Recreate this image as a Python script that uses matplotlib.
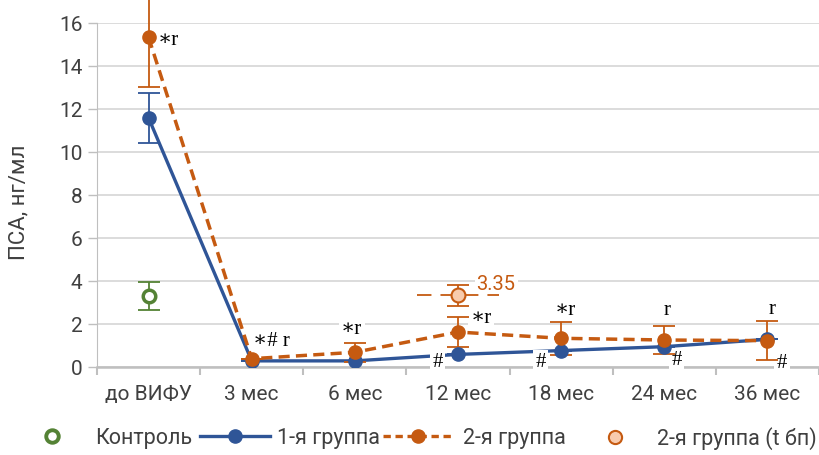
import numpy as np
import matplotlib
matplotlib.use("Agg")
import matplotlib.pyplot as plt
from matplotlib.lines import Line2D

categories = ['до ВИФУ', '3 мес', '6 мес', '12 мес', '18 мес', '24 мес', '36 мес']
group1 = [11.6, 0.3, 0.3, 0.6, 0.78, 0.96, 1.3]
group1_err = [1.15, 0, 0, 0, 0, 0, 0]
group2 = [15.35, 0.4, 0.7, 1.64, 1.35, 1.27, 1.24]
group2_err = [2.3, 0, 0.43, 0.7, 0.78, 0.66, 0.9]
control = [3.3]
control_err = [0.65]
tbp = [3.35]
tbp_err = [0.5]
tbp_xerr = [0.4]

blue = '#2F5597'
orange = '#C55A11'
green = '#548235'
light = '#F8CBAD'
grid_c = '#D9D9D9'
axis_c = '#BFBFBF'
text_c = '#404040'

plt.rcParams['font.family'] = ['Roboto', 'DejaVu Sans']
FS = 15
LFS = 15.5

fig = plt.figure(figsize=(8.19, 4.55), dpi=100)
ax = fig.add_axes([0.1184, 0.1927, 0.8816, 0.7562])

x = np.arange(len(categories))

ax.plot(x, group1, color=blue, lw=2.4, zorder=3)
ax.errorbar(x, group1, yerr=group1_err, fmt='none', ecolor=blue, elinewidth=1.3,
            capsize=8, capthick=1.3, zorder=3)
ax.plot(x, group1, ls='none', marker='o', ms=9.5, mfc=blue, mec=blue, zorder=6)

ax.plot(x, group2, color=orange, lw=2.5, dashes=(3.2, 1.8), zorder=4)
ax.errorbar(x, group2, yerr=group2_err, fmt='none', ecolor=orange, elinewidth=1.3,
            capsize=8, capthick=1.3, zorder=4, clip_on=False)
ax.plot(x, group2, ls='none', marker='o', ms=9.5, mfc=orange, mec=orange, zorder=7)

ax.errorbar([0], control, yerr=control_err, fmt='none', ecolor=green, elinewidth=1.3,
            capsize=8, capthick=1.3, zorder=4)
ax.plot([0], control, ls='none', marker='o', ms=9, mfc='white', mec=green, mew=2.5, zorder=7)

ax.errorbar([3], tbp, yerr=tbp_err, fmt='none', ecolor=orange,
            elinewidth=1.3, capsize=8, capthick=1.3, zorder=4)
ebx = ax.errorbar([3], tbp, xerr=tbp_xerr, fmt='none', ecolor=orange,
                  elinewidth=1.3, capsize=0, zorder=4)
ebx[2][0].set_linestyle((0, (8, 5)))
ax.plot([3], tbp, ls='none', marker='o', ms=10, mfc=light, mec=orange, mew=1.5, zorder=7)

# significance labels
box = dict(boxstyle='square,pad=0.12', fc='white', ec='none')
marks = [
    ('∗r', 0.09, 15.2, 'left'),
    ('∗# r', 1.01, 1.18, 'left'),
    ('∗r', 1.97, 1.75, 'center'),
    ('∗r', 3.12, 2.29, 'left'),
    ('∗r', 4.04, 2.62, 'center'),
    ('r', 5.03, 2.62, 'center'),
    ('r', 6.05, 2.7, 'center'),
    ('#', 2.8, 0.24, 'center'),
    ('#', 3.8, 0.24, 'center'),
    ('#', 5.12, 0.3, 'center'),
    ('#', 6.14, 0.18, 'center'),
]
for s, tx, ty, ha in marks:
    ax.text(tx, ty, s, ha=ha, va='center', fontsize=15,
            family=['Liberation Serif', 'DejaVu Serif'],
            color='black', bbox=box, zorder=3.5)

ax.text(3.18, 3.83, '3.35', ha='left', va='center', fontsize=14.5, color=orange,
        bbox=dict(boxstyle='square,pad=0.1', fc='white', ec='none'), zorder=3.5)

ax.set_xlim(-0.5, 6.5)
ax.set_ylim(0, 16)
ax.set_yticks(np.arange(0, 17, 2))
ax.set_xticks(x)
ax.set_xticklabels(categories)
ax.set_xticks(np.arange(-0.5, 7, 1), minor=True)
ax.tick_params(axis='x', which='major', length=0, pad=13, labelsize=FS, labelcolor=text_c)
ax.tick_params(axis='x', which='minor', length=6, width=1.5, color=axis_c)
ax.tick_params(axis='y', length=6.5, width=1, color=axis_c, labelsize=FS, labelcolor=text_c, pad=4)
ax.grid(axis='y', color=grid_c, lw=1.3, zorder=0)
ax.set_axisbelow(True)
for side in ['top', 'right']:
    ax.spines[side].set_visible(False)
ax.spines['left'].set_color(axis_c)
ax.spines['bottom'].set_color(axis_c)
ax.spines['bottom'].set_linewidth(1.8)
ax.set_ylabel('ПСА, нг/мл', fontsize=16, color=text_c)
ax.yaxis.set_label_coords(-0.093, 0.48)

handles = [
    Line2D([], [], ls='none', marker='o', ms=9, mfc='white', mec=green, mew=2.8),
    Line2D([], [], color=blue, lw=2.4, marker='o', ms=9.5, mfc=blue, mec=blue),
    Line2D([], [], color=orange, lw=2.4, dashes=(2.2, 1.4), marker='o', ms=9.5, mfc=orange, mec=orange),
    Line2D([], [], ls='none', marker='o', ms=9.5, mfc=light, mec=orange, mew=1.5),
]
labels = ['Контроль', '1-я группа', '2-я группа', '2-я группа (t бп)']
# (handle left edge px, text pad px)
em = LFS * 100 / 72
slots = [(17, 8), (200, 7), (383, 10), (580, 7)]
for h, lab, (x0, gap) in zip(handles, labels, slots):
    fig.legend([h], [lab], loc='center left', bbox_to_anchor=(x0 / 819, 0.037),
               frameon=False, fontsize=LFS, labelcolor=text_c, handlelength=70 / em,
               handletextpad=gap / em, borderpad=0, borderaxespad=0)

fig.savefig('out.png', dpi=100)
